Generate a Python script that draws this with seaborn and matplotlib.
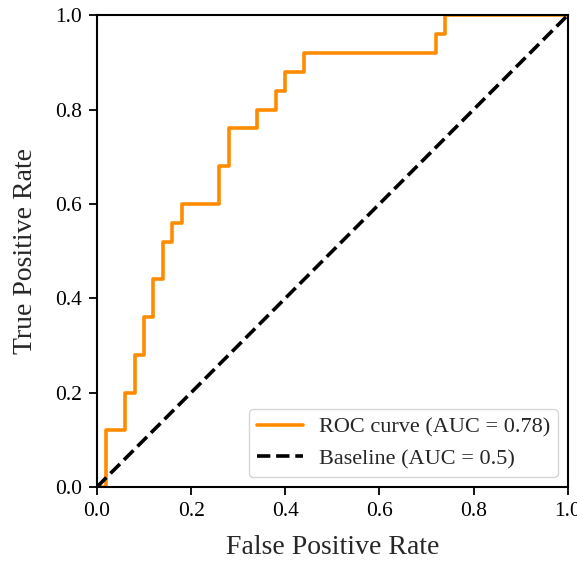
import numpy as np
import pandas as pd
import matplotlib
matplotlib.use('Agg')
import matplotlib.pyplot as plt
import seaborn as sns

# Punkty krzywej ROC
fpr = [0.0, 0.02, 0.02, 0.06, 0.06, 0.08, 0.08, 0.10, 0.10, 0.12, 0.12, 0.14, 0.14,
       0.16, 0.16, 0.18, 0.18, 0.26, 0.26, 0.28, 0.28, 0.34, 0.34, 0.38, 0.38,
       0.40, 0.40, 0.44, 0.44, 0.72, 0.72, 0.74, 0.74, 1.0]
tpr = [0.0, 0.0, 0.12, 0.12, 0.20, 0.20, 0.28, 0.28, 0.36, 0.36, 0.44, 0.44, 0.52,
       0.52, 0.56, 0.56, 0.60, 0.60, 0.68, 0.68, 0.76, 0.76, 0.80, 0.80, 0.84,
       0.84, 0.88, 0.88, 0.92, 0.92, 0.96, 0.96, 1.0, 1.0]
auc_value = 0.78
baseline_x = [0.0, 1.0]
baseline_y = [0.0, 1.0]

roc_df = pd.DataFrame({'fpr': fpr, 'tpr': tpr})
base_df = pd.DataFrame({'x': baseline_x, 'y': baseline_y})

sns.set_style('ticks')
plt.rcParams['font.family'] = ['Liberation Serif', 'DejaVu Serif']

fig, ax = plt.subplots(figsize=(5.77, 5.63), dpi=100)
fig.subplots_adjust(left=0.168, right=0.984, top=0.973, bottom=0.135)

sns.lineplot(data=roc_df, x='fpr', y='tpr', ax=ax, sort=False, estimator=None,
             color='darkorange', linewidth=2.6, label=f'ROC curve (AUC = {auc_value})')
sns.lineplot(data=base_df, x='x', y='y', ax=ax, sort=False, estimator=None,
             color='black', linewidth=2.6, linestyle='--', label='Baseline (AUC = 0.5)')

ax.set_xlim(0, 1)
ax.set_ylim(0, 1)
ax.set_xticks(np.arange(0, 1.01, 0.2))
ax.set_yticks(np.arange(0, 1.01, 0.2))
ax.tick_params(labelsize=15.5, length=6, width=1.3, colors='black', pad=5)
for s in ax.spines.values():
    s.set_visible(True)
    s.set_color('black')
    s.set_linewidth(1.5)
ax.set_xlabel('False Positive Rate', fontsize=20, labelpad=10)
ax.set_ylabel('True Positive Rate', fontsize=20, labelpad=12)
ax.legend(loc='lower right', fontsize=16, frameon=True, handlelength=2.1,
          handletextpad=0.7, borderpad=0.35, borderaxespad=0.45)

fig.savefig('out.png', dpi=100)
